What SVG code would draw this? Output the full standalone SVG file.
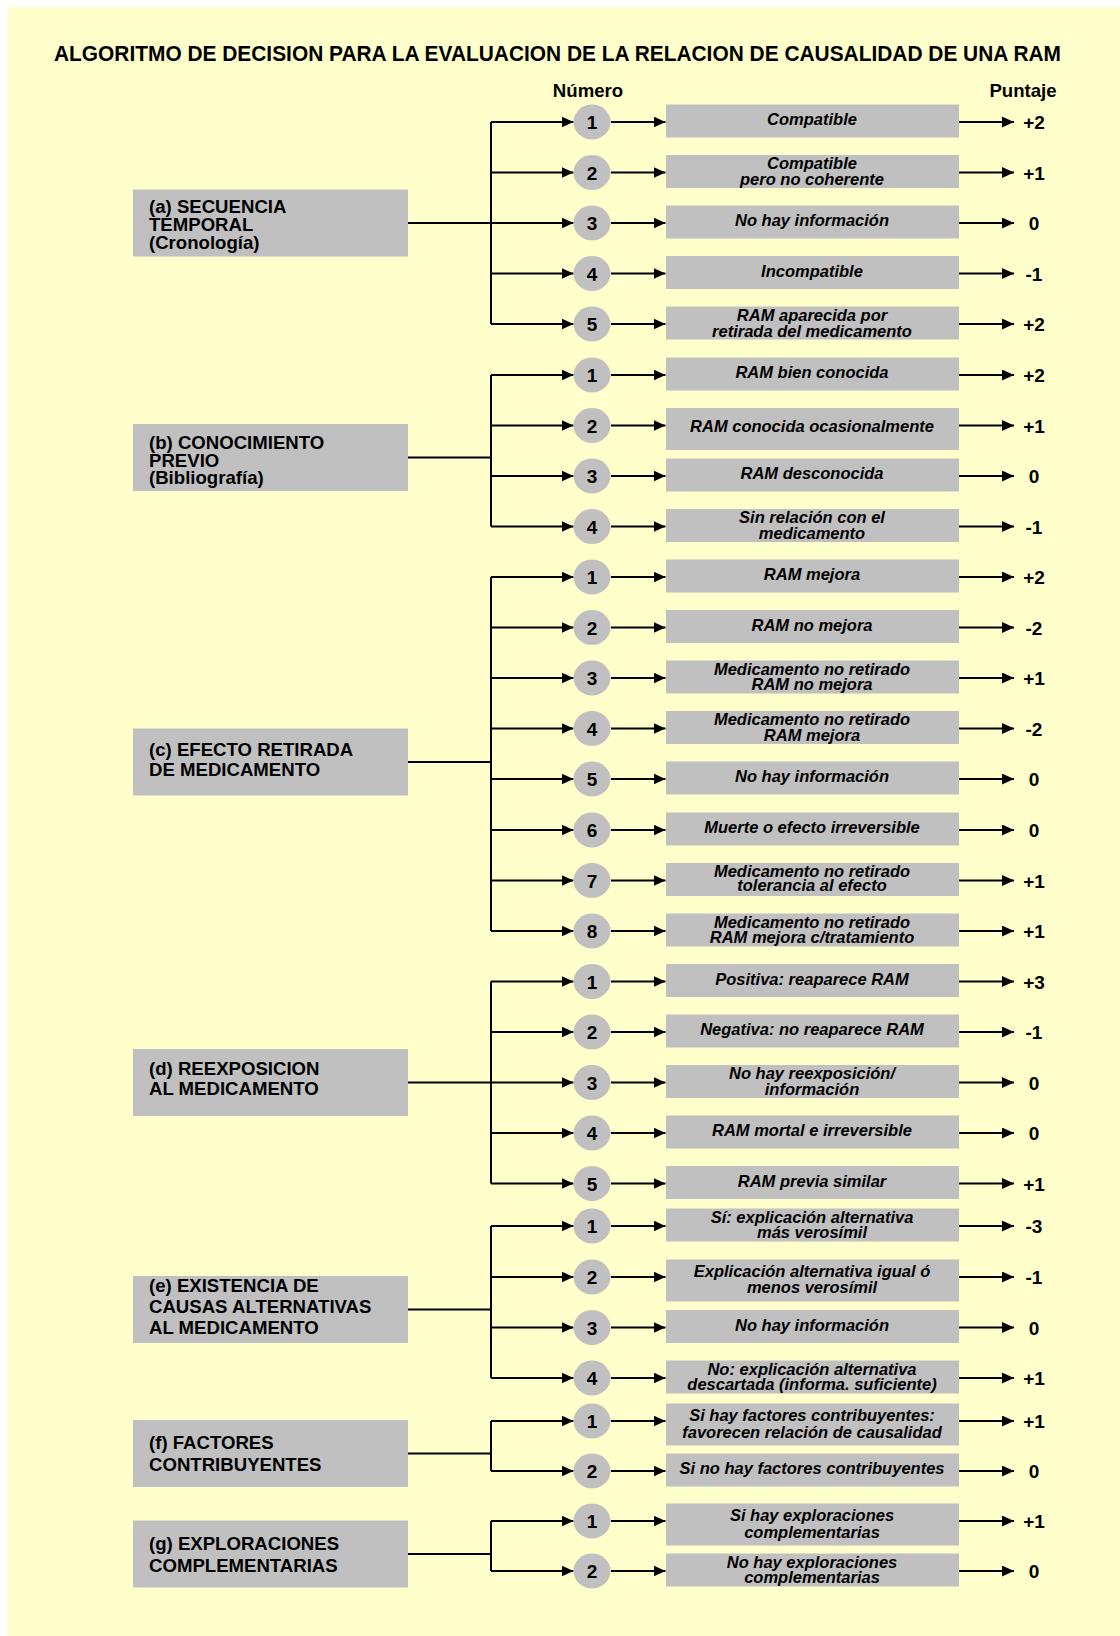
<svg xmlns="http://www.w3.org/2000/svg" width="1120" height="1636" viewBox="0 0 1120 1636">
<style>
text{font-family:"Liberation Sans",Arial,sans-serif;font-weight:bold;fill:#000}
.title{font-size:20.8px;transform-box:fill-box;transform-origin:50% 60%;transform:scaleY(1.1)}
.hdr{font-size:18.6px;text-anchor:middle}
.cat{font-size:18.6px}
.opt{font-size:16.5px;font-style:italic;text-anchor:middle}
.num{font-size:19px;text-anchor:middle}
.sc{font-size:19px;text-anchor:middle}
.box{fill:#C0C0C0}
.circ{fill:#C0C0C0}
.ln{fill:none;stroke:#000;stroke-width:2}
.ar{fill:none;stroke:#000;stroke-width:2;marker-end:url(#ah)}
</style>
<defs>
<marker id="ah" markerUnits="userSpaceOnUse" markerWidth="12" markerHeight="11" refX="12" refY="5.5" orient="auto">
<path d="M0,0 L12,5.5 L0,11 z" fill="#000"/>
</marker>
</defs>
<rect x="0" y="0" width="1120" height="1636" fill="#FFFFFF"/>
<rect x="8" y="7" width="1112" height="1629" fill="#FFFFCC"/>
<text class="title" x="54" y="60.5" textLength="1007" lengthAdjust="spacingAndGlyphs">ALGORITMO DE DECISION PARA LA EVALUACION DE LA RELACION DE CAUSALIDAD DE UNA RAM</text>
<text class="hdr" x="588" y="96.5">Número</text>
<text class="hdr" x="1023" y="96.5">Puntaje</text>

<g id="connectors">
<path class="ln" d="M408 223H491M491 122V324"/>
<path class="ln" d="M408 457.5H491M491 375V526.5"/>
<path class="ln" d="M408 762H491M491 577V931"/>
<path class="ln" d="M408 1082.5H491M491 981.5V1183.5"/>
<path class="ln" d="M408 1309.5H491M491 1226V1378"/>
<path class="ln" d="M408 1453.5H491M491 1421V1471"/>
<path class="ln" d="M408 1554H491M491 1521V1571"/>
<path class="ar" d="M491 122H573.5"/><path class="ar" d="M611 122H665.5"/><path class="ar" d="M959 122H1014"/>
<path class="ar" d="M491 172.5H573.5"/><path class="ar" d="M611 172.5H665.5"/><path class="ar" d="M959 172.5H1014"/>
<path class="ar" d="M491 223H573.5"/><path class="ar" d="M611 223H665.5"/><path class="ar" d="M959 223H1014"/>
<path class="ar" d="M491 273.5H573.5"/><path class="ar" d="M611 273.5H665.5"/><path class="ar" d="M959 273.5H1014"/>
<path class="ar" d="M491 324H573.5"/><path class="ar" d="M611 324H665.5"/><path class="ar" d="M959 324H1014"/>
<path class="ar" d="M491 375H573.5"/><path class="ar" d="M611 375H665.5"/><path class="ar" d="M959 375H1014"/>
<path class="ar" d="M491 425.5H573.5"/><path class="ar" d="M611 425.5H665.5"/><path class="ar" d="M959 425.5H1014"/>
<path class="ar" d="M491 476H573.5"/><path class="ar" d="M611 476H665.5"/><path class="ar" d="M959 476H1014"/>
<path class="ar" d="M491 526.5H573.5"/><path class="ar" d="M611 526.5H665.5"/><path class="ar" d="M959 526.5H1014"/>
<path class="ar" d="M491 577H573.5"/><path class="ar" d="M611 577H665.5"/><path class="ar" d="M959 577H1014"/>
<path class="ar" d="M491 627.5H573.5"/><path class="ar" d="M611 627.5H665.5"/><path class="ar" d="M959 627.5H1014"/>
<path class="ar" d="M491 678H573.5"/><path class="ar" d="M611 678H665.5"/><path class="ar" d="M959 678H1014"/>
<path class="ar" d="M491 728.5H573.5"/><path class="ar" d="M611 728.5H665.5"/><path class="ar" d="M959 728.5H1014"/>
<path class="ar" d="M491 779H573.5"/><path class="ar" d="M611 779H665.5"/><path class="ar" d="M959 779H1014"/>
<path class="ar" d="M491 830H573.5"/><path class="ar" d="M611 830H665.5"/><path class="ar" d="M959 830H1014"/>
<path class="ar" d="M491 880.5H573.5"/><path class="ar" d="M611 880.5H665.5"/><path class="ar" d="M959 880.5H1014"/>
<path class="ar" d="M491 931H573.5"/><path class="ar" d="M611 931H665.5"/><path class="ar" d="M959 931H1014"/>
<path class="ar" d="M491 981.5H573.5"/><path class="ar" d="M611 981.5H665.5"/><path class="ar" d="M959 981.5H1014"/>
<path class="ar" d="M491 1032H573.5"/><path class="ar" d="M611 1032H665.5"/><path class="ar" d="M959 1032H1014"/>
<path class="ar" d="M491 1082.5H573.5"/><path class="ar" d="M611 1082.5H665.5"/><path class="ar" d="M959 1082.5H1014"/>
<path class="ar" d="M491 1133H573.5"/><path class="ar" d="M611 1133H665.5"/><path class="ar" d="M959 1133H1014"/>
<path class="ar" d="M491 1183.5H573.5"/><path class="ar" d="M611 1183.5H665.5"/><path class="ar" d="M959 1183.5H1014"/>
<path class="ar" d="M491 1226H573.5"/><path class="ar" d="M611 1226H665.5"/><path class="ar" d="M959 1226H1014"/>
<path class="ar" d="M491 1277H573.5"/><path class="ar" d="M611 1277H665.5"/><path class="ar" d="M959 1277H1014"/>
<path class="ar" d="M491 1327.5H573.5"/><path class="ar" d="M611 1327.5H665.5"/><path class="ar" d="M959 1327.5H1014"/>
<path class="ar" d="M491 1378H573.5"/><path class="ar" d="M611 1378H665.5"/><path class="ar" d="M959 1378H1014"/>
<path class="ar" d="M491 1421H573.5"/><path class="ar" d="M611 1421H665.5"/><path class="ar" d="M959 1421H1014"/>
<path class="ar" d="M491 1471H573.5"/><path class="ar" d="M611 1471H665.5"/><path class="ar" d="M959 1471H1014"/>
<path class="ar" d="M491 1521H573.5"/><path class="ar" d="M611 1521H665.5"/><path class="ar" d="M959 1521H1014"/>
<path class="ar" d="M491 1571H573.5"/><path class="ar" d="M611 1571H665.5"/><path class="ar" d="M959 1571H1014"/>
</g>

<g id="cat-a"><rect class="box" x="133" y="189.5" width="275" height="67"/><text class="cat" x="149" y="213">(a) SECUENCIA</text><text class="cat" x="149" y="231">TEMPORAL</text><text class="cat" x="149" y="248.5">(Cronología)</text></g>
<g id="cat-b"><rect class="box" x="133" y="424" width="275" height="67"/><text class="cat" x="149" y="449">(b) CONOCIMIENTO</text><text class="cat" x="149" y="466.5">PREVIO</text><text class="cat" x="149" y="484">(Bibliografía)</text></g>
<g id="cat-c"><rect class="box" x="133" y="728.5" width="275" height="67"/><text class="cat" x="149" y="756">(c) EFECTO RETIRADA</text><text class="cat" x="149" y="776">DE MEDICAMENTO</text></g>
<g id="cat-d"><rect class="box" x="133" y="1049" width="275" height="67"/><text class="cat" x="149" y="1075">(d) REEXPOSICION</text><text class="cat" x="149" y="1095">AL MEDICAMENTO</text></g>
<g id="cat-e"><rect class="box" x="133" y="1276" width="275" height="67"/><text class="cat" x="149" y="1292">(e) EXISTENCIA DE</text><text class="cat" x="149" y="1313">CAUSAS ALTERNATIVAS</text><text class="cat" x="149" y="1334">AL MEDICAMENTO</text></g>
<g id="cat-f"><rect class="box" x="133" y="1420" width="275" height="67"/><text class="cat" x="149" y="1449">(f) FACTORES</text><text class="cat" x="149" y="1471">CONTRIBUYENTES</text></g>
<g id="cat-g"><rect class="box" x="133" y="1520.5" width="275" height="67"/><text class="cat" x="149" y="1550">(g) EXPLORACIONES</text><text class="cat" x="149" y="1571.5">COMPLEMENTARIAS</text></g>

<!-- (a) -->
<g id="a1"><g id="a1-n"><ellipse class="circ" cx="592" cy="122" rx="18.5" ry="17.5"/><text class="num" x="592" y="129">1</text></g><g id="a1-o"><rect class="box" x="666" y="104.5" width="293" height="33"/><text class="opt" x="812" y="125">Compatible</text></g><text id="a1-s" class="sc" x="1034" y="129">+2</text></g>
<g id="a2"><g id="a2-n"><ellipse class="circ" cx="592" cy="172.5" rx="18.5" ry="17.5"/><text class="num" x="592" y="179.5">2</text></g><g id="a2-o"><rect class="box" x="666" y="155" width="293" height="33"/><text class="opt" x="812" y="169">Compatible</text><text class="opt" x="812" y="184.5">pero no coherente</text></g><text id="a2-s" class="sc" x="1034" y="179.5">+1</text></g>
<g id="a3"><g id="a3-n"><ellipse class="circ" cx="592" cy="223" rx="18.5" ry="17.5"/><text class="num" x="592" y="230">3</text></g><g id="a3-o"><rect class="box" x="666" y="205.5" width="293" height="33"/><text class="opt" x="812" y="226">No hay información</text></g><text id="a3-s" class="sc" x="1034" y="230">0</text></g>
<g id="a4"><g id="a4-n"><ellipse class="circ" cx="592" cy="273.5" rx="18.5" ry="17.5"/><text class="num" x="592" y="280.5">4</text></g><g id="a4-o"><rect class="box" x="666" y="256" width="293" height="33"/><text class="opt" x="812" y="276.5">Incompatible</text></g><text id="a4-s" class="sc" x="1034" y="280.5">-1</text></g>
<g id="a5"><g id="a5-n"><ellipse class="circ" cx="592" cy="324" rx="18.5" ry="17.5"/><text class="num" x="592" y="331">5</text></g><g id="a5-o"><rect class="box" x="666" y="306.5" width="293" height="33"/><text class="opt" x="812" y="320.5">RAM aparecida por</text><text class="opt" x="812" y="336.5">retirada del medicamento</text></g><text id="a5-s" class="sc" x="1034" y="331">+2</text></g>

<!-- (b) -->
<g id="b1"><g id="b1-n"><ellipse class="circ" cx="592" cy="375" rx="18.5" ry="17.5"/><text class="num" x="592" y="382">1</text></g><g id="b1-o"><rect class="box" x="666" y="357.5" width="293" height="33"/><text class="opt" x="812" y="378">RAM bien conocida</text></g><text id="b1-s" class="sc" x="1034" y="382">+2</text></g>
<g id="b2"><g id="b2-n"><ellipse class="circ" cx="592" cy="425.5" rx="18.5" ry="17.5"/><text class="num" x="592" y="432.5">2</text></g><g id="b2-o"><rect class="box" x="666" y="408" width="293" height="42"/><text class="opt" x="812" y="431.5">RAM conocida ocasionalmente</text></g><text id="b2-s" class="sc" x="1034" y="432.5">+1</text></g>
<g id="b3"><g id="b3-n"><ellipse class="circ" cx="592" cy="476" rx="18.5" ry="17.5"/><text class="num" x="592" y="483">3</text></g><g id="b3-o"><rect class="box" x="666" y="458.5" width="293" height="33"/><text class="opt" x="812" y="479">RAM desconocida</text></g><text id="b3-s" class="sc" x="1034" y="483">0</text></g>
<g id="b4"><g id="b4-n"><ellipse class="circ" cx="592" cy="526.5" rx="18.5" ry="17.5"/><text class="num" x="592" y="533.5">4</text></g><g id="b4-o"><rect class="box" x="666" y="509" width="293" height="33"/><text class="opt" x="812" y="523">Sin relación con el</text><text class="opt" x="812" y="538.5">medicamento</text></g><text id="b4-s" class="sc" x="1034" y="533.5">-1</text></g>

<!-- (c) -->
<g id="c1"><g id="c1-n"><ellipse class="circ" cx="592" cy="577" rx="18.5" ry="17.5"/><text class="num" x="592" y="584">1</text></g><g id="c1-o"><rect class="box" x="666" y="559.5" width="293" height="33"/><text class="opt" x="812" y="580">RAM mejora</text></g><text id="c1-s" class="sc" x="1034" y="584">+2</text></g>
<g id="c2"><g id="c2-n"><ellipse class="circ" cx="592" cy="627.5" rx="18.5" ry="17.5"/><text class="num" x="592" y="634.5">2</text></g><g id="c2-o"><rect class="box" x="666" y="610" width="293" height="33"/><text class="opt" x="812" y="630.5">RAM no mejora</text></g><text id="c2-s" class="sc" x="1034" y="634.5">-2</text></g>
<g id="c3"><g id="c3-n"><ellipse class="circ" cx="592" cy="678" rx="18.5" ry="17.5"/><text class="num" x="592" y="685">3</text></g><g id="c3-o"><rect class="box" x="666" y="660.5" width="293" height="33"/><text class="opt" x="812" y="674.5">Medicamento no retirado</text><text class="opt" x="812" y="690">RAM no mejora</text></g><text id="c3-s" class="sc" x="1034" y="685">+1</text></g>
<g id="c4"><g id="c4-n"><ellipse class="circ" cx="592" cy="728.5" rx="18.5" ry="17.5"/><text class="num" x="592" y="735.5">4</text></g><g id="c4-o"><rect class="box" x="666" y="711" width="293" height="33"/><text class="opt" x="812" y="725">Medicamento no retirado</text><text class="opt" x="812" y="740.5">RAM mejora</text></g><text id="c4-s" class="sc" x="1034" y="735.5">-2</text></g>
<g id="c5"><g id="c5-n"><ellipse class="circ" cx="592" cy="779" rx="18.5" ry="17.5"/><text class="num" x="592" y="786">5</text></g><g id="c5-o"><rect class="box" x="666" y="761.5" width="293" height="33"/><text class="opt" x="812" y="782">No hay información</text></g><text id="c5-s" class="sc" x="1034" y="786">0</text></g>
<g id="c6"><g id="c6-n"><ellipse class="circ" cx="592" cy="830" rx="18.5" ry="17.5"/><text class="num" x="592" y="837">6</text></g><g id="c6-o"><rect class="box" x="666" y="812.5" width="293" height="33"/><text class="opt" x="812" y="833">Muerte o efecto irreversible</text></g><text id="c6-s" class="sc" x="1034" y="837">0</text></g>
<g id="c7"><g id="c7-n"><ellipse class="circ" cx="592" cy="880.5" rx="18.5" ry="17.5"/><text class="num" x="592" y="887.5">7</text></g><g id="c7-o"><rect class="box" x="666" y="863" width="293" height="33"/><text class="opt" x="812" y="877">Medicamento no retirado</text><text class="opt" x="812" y="891">tolerancia al efecto</text></g><text id="c7-s" class="sc" x="1034" y="887.5">+1</text></g>
<g id="c8"><g id="c8-n"><ellipse class="circ" cx="592" cy="931" rx="18.5" ry="17.5"/><text class="num" x="592" y="938">8</text></g><g id="c8-o"><rect class="box" x="666" y="913.5" width="293" height="33"/><text class="opt" x="812" y="927.5">Medicamento no retirado</text><text class="opt" x="812" y="943">RAM mejora c/tratamiento</text></g><text id="c8-s" class="sc" x="1034" y="938">+1</text></g>

<!-- (d) -->
<g id="d1"><g id="d1-n"><ellipse class="circ" cx="592" cy="981.5" rx="18.5" ry="17.5"/><text class="num" x="592" y="988.5">1</text></g><g id="d1-o"><rect class="box" x="666" y="964" width="293" height="33"/><text class="opt" x="812" y="984.5">Positiva: reaparece RAM</text></g><text id="d1-s" class="sc" x="1034" y="988.5">+3</text></g>
<g id="d2"><g id="d2-n"><ellipse class="circ" cx="592" cy="1032" rx="18.5" ry="17.5"/><text class="num" x="592" y="1039">2</text></g><g id="d2-o"><rect class="box" x="666" y="1014.5" width="293" height="33"/><text class="opt" x="812" y="1035">Negativa: no reaparece RAM</text></g><text id="d2-s" class="sc" x="1034" y="1039">-1</text></g>
<g id="d3"><g id="d3-n"><ellipse class="circ" cx="592" cy="1082.5" rx="18.5" ry="17.5"/><text class="num" x="592" y="1089.5">3</text></g><g id="d3-o"><rect class="box" x="666" y="1065" width="293" height="33"/><text class="opt" x="812" y="1079">No hay reexposición/</text><text class="opt" x="812" y="1094.5">información</text></g><text id="d3-s" class="sc" x="1034" y="1089.5">0</text></g>
<g id="d4"><g id="d4-n"><ellipse class="circ" cx="592" cy="1133" rx="18.5" ry="17.5"/><text class="num" x="592" y="1140">4</text></g><g id="d4-o"><rect class="box" x="666" y="1115.5" width="293" height="33"/><text class="opt" x="812" y="1136">RAM mortal e irreversible</text></g><text id="d4-s" class="sc" x="1034" y="1140">0</text></g>
<g id="d5"><g id="d5-n"><ellipse class="circ" cx="592" cy="1183.5" rx="18.5" ry="17.5"/><text class="num" x="592" y="1190.5">5</text></g><g id="d5-o"><rect class="box" x="666" y="1166" width="293" height="33"/><text class="opt" x="812" y="1186.5">RAM previa similar</text></g><text id="d5-s" class="sc" x="1034" y="1190.5">+1</text></g>

<!-- (e) -->
<g id="e1"><g id="e1-n"><ellipse class="circ" cx="592" cy="1226" rx="18.5" ry="17.5"/><text class="num" x="592" y="1233">1</text></g><g id="e1-o"><rect class="box" x="666" y="1208.5" width="293" height="33"/><text class="opt" x="812" y="1222.5">Sí: explicación alternativa</text><text class="opt" x="812" y="1238">más verosímil</text></g><text id="e1-s" class="sc" x="1034" y="1233">-3</text></g>
<g id="e2"><g id="e2-n"><ellipse class="circ" cx="592" cy="1277" rx="18.5" ry="17.5"/><text class="num" x="592" y="1284">2</text></g><g id="e2-o"><rect class="box" x="666" y="1259.5" width="293" height="42"/><text class="opt" x="812" y="1277">Explicación alternativa igual ó</text><text class="opt" x="812" y="1292.5">menos verosímil</text></g><text id="e2-s" class="sc" x="1034" y="1284">-1</text></g>
<g id="e3"><g id="e3-n"><ellipse class="circ" cx="592" cy="1327.5" rx="18.5" ry="17.5"/><text class="num" x="592" y="1334.5">3</text></g><g id="e3-o"><rect class="box" x="666" y="1310" width="293" height="33"/><text class="opt" x="812" y="1330.5">No hay información</text></g><text id="e3-s" class="sc" x="1034" y="1334.5">0</text></g>
<g id="e4"><g id="e4-n"><ellipse class="circ" cx="592" cy="1378" rx="18.5" ry="17.5"/><text class="num" x="592" y="1385">4</text></g><g id="e4-o"><rect class="box" x="666" y="1360.5" width="293" height="33"/><text class="opt" x="812" y="1374.5">No: explicación alternativa</text><text class="opt" x="812" y="1390">descartada (informa. suficiente)</text></g><text id="e4-s" class="sc" x="1034" y="1385">+1</text></g>

<!-- (f) -->
<g id="f1"><g id="f1-n"><ellipse class="circ" cx="592" cy="1421" rx="18.5" ry="17.5"/><text class="num" x="592" y="1428">1</text></g><g id="f1-o"><rect class="box" x="666" y="1403.5" width="293" height="42"/><text class="opt" x="812" y="1421">Si hay factores contribuyentes:</text><text class="opt" x="812" y="1438">favorecen relación de causalidad</text></g><text id="f1-s" class="sc" x="1034" y="1428">+1</text></g>
<g id="f2"><g id="f2-n"><ellipse class="circ" cx="592" cy="1471" rx="18.5" ry="17.5"/><text class="num" x="592" y="1478">2</text></g><g id="f2-o"><rect class="box" x="666" y="1453.5" width="293" height="33"/><text class="opt" x="812" y="1474">Si no hay factores contribuyentes</text></g><text id="f2-s" class="sc" x="1034" y="1478">0</text></g>

<!-- (g) -->
<g id="g1"><g id="g1-n"><ellipse class="circ" cx="592" cy="1521" rx="18.5" ry="17.5"/><text class="num" x="592" y="1528">1</text></g><g id="g1-o"><rect class="box" x="666" y="1503.5" width="293" height="42"/><text class="opt" x="812" y="1521">Si hay exploraciones</text><text class="opt" x="812" y="1537.5">complementarias</text></g><text id="g1-s" class="sc" x="1034" y="1528">+1</text></g>
<g id="g2"><g id="g2-n"><ellipse class="circ" cx="592" cy="1571" rx="18.5" ry="17.5"/><text class="num" x="592" y="1578">2</text></g><g id="g2-o"><rect class="box" x="666" y="1553.5" width="293" height="33"/><text class="opt" x="812" y="1567.5">No hay exploraciones</text><text class="opt" x="812" y="1583">complementarias</text></g><text id="g2-s" class="sc" x="1034" y="1578">0</text></g>
</svg>
